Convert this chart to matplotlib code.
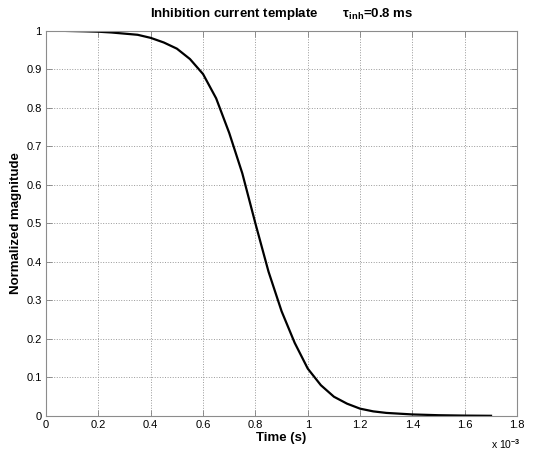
import numpy as np
import matplotlib.pyplot as plt
from matplotlib.ticker import FuncFormatter

plt.rcParams['font.family'] = ['Liberation Sans', 'DejaVu Sans']
plt.rcParams['mathtext.fontset'] = 'custom'
plt.rcParams['mathtext.rm'] = 'Liberation Sans:bold'
plt.rcParams['mathtext.it'] = 'Liberation Sans:bold'
plt.rcParams['mathtext.bf'] = 'Liberation Sans:bold'

# time in ms, converted to seconds for plotting
t_ms = [0.08, 0.15, 0.2, 0.25, 0.3, 0.35, 0.4, 0.45, 0.5, 0.55, 0.6, 0.65,
        0.7, 0.75, 0.8, 0.85, 0.9, 0.95, 1.0, 1.05, 1.1, 1.15, 1.2, 1.25,
        1.3, 1.35, 1.4, 1.5, 1.6, 1.7]
mag = [1.0, 0.999, 0.998, 0.996, 0.993, 0.99, 0.982, 0.97, 0.954, 0.927,
       0.888, 0.825, 0.735, 0.63, 0.5, 0.375, 0.272, 0.19, 0.123, 0.08,
       0.05, 0.032, 0.019, 0.012, 0.008, 0.006, 0.004, 0.002, 0.001, 0.0005]
x_ticks_ms = [0, 0.2, 0.4, 0.6, 0.8, 1.0, 1.2, 1.4, 1.6, 1.8]
y_ticks = [0, 0.1, 0.2, 0.3, 0.4, 0.5, 0.6, 0.7, 0.8, 0.9, 1.0]

t = np.array(t_ms) * 1e-3

fig = plt.figure(figsize=(5.41, 4.53), dpi=100)
ax = fig.add_axes([0.085, 0.0817, 0.871, 0.85])
ax.plot(t, mag, color='black', linewidth=1.6)

ax.set_xlim(0, 1.8e-3)
ax.set_ylim(0, 1)
ax.set_xticks(np.array(x_ticks_ms) * 1e-3)
ax.set_yticks(y_ticks)
ax.xaxis.set_major_formatter(FuncFormatter(lambda v, p: '%g' % round(v * 1e3, 3)))
ax.yaxis.set_major_formatter(FuncFormatter(lambda v, p: '%g' % round(v, 3)))
ax.tick_params(direction='in', top=True, right=True, length=4, labelsize=8,
               width=0.6, color='#808080', pad=3)
ax.grid(True, linestyle=':', color='#999999', linewidth=0.7)
for s in ax.spines.values():
    s.set_linewidth(0.8)
    s.set_color('#8c8c8c')

ax.set_xlabel('Time (s)', fontsize=9.5, fontweight='bold', labelpad=1)
ax.set_ylabel('Normalized magnitude', fontsize=9.5, fontweight='bold', labelpad=3)
ax.set_title(r'Inhibition current template       $\tau_{\mathrm{inh}}$=0.8 ms',
             fontsize=9.5, fontweight='bold', pad=10)
fig.text(0.908, 0.008, r'x 10$^{-3}$', fontsize=7.5)

plt.savefig('out.png', dpi=100)
